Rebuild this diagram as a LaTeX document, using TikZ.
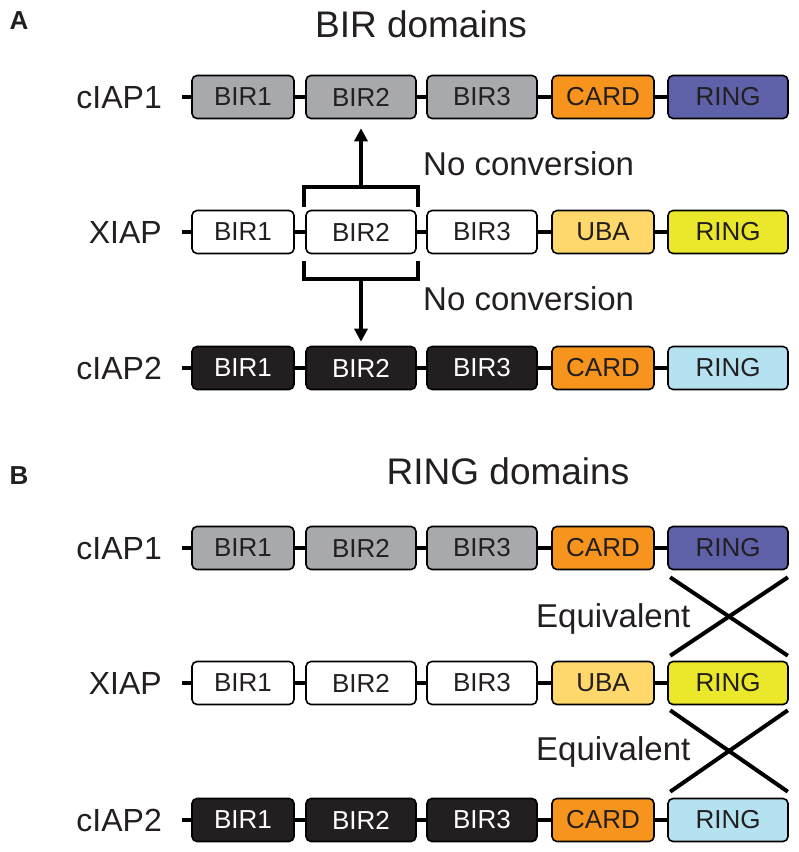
\documentclass[tikz,border=0pt]{standalone}
\usepackage{fontspec}
\setmainfont{Liberation Sans}
\usetikzlibrary{positioning,calc,arrows.meta}

\definecolor{birgrey}{HTML}{A7A9AC}
\definecolor{birblack}{HTML}{231F20}
\definecolor{cardorange}{HTML}{F7941E}
\definecolor{ubayellow}{HTML}{FED86A}
\definecolor{ringpurple}{HTML}{5E60A8}
\definecolor{ringyellow}{HTML}{EBE72B}
\definecolor{ringblue}{HTML}{B5E2F0}

\begin{document}
\begin{tikzpicture}[x=1pt,y=-1pt]
        \tikzstyle{every node}=[font=\fontsize{26}{30}\selectfont, inner sep=0pt, text=birblack]
        \tikzstyle{dom}=[draw, line width=1.6pt, rounded corners=5pt, minimum height=43pt]
        \tikzstyle{link}=[line width=4pt]
        \tikzstyle{prot}=[anchor=base east, font=\fontsize{32}{36}\selectfont]
        \tikzstyle{head}=[anchor=base, font=\fontsize{37}{42}\selectfont]
        \tikzstyle{note}=[anchor=base west, font=\fontsize{33}{38}\selectfont]
        \tikzstyle{panel}=[font=\fontsize{26}{30}\selectfont\bfseries]

        \useasboundingbox (0,0) rectangle (799,852);

        % panel letters and headings
        \node[panel] (pA) at (19,21) {A};
        \node[panel] (pB) at (19,476) {B};
        \node[head]  (hA) at (421,37)  {BIR domains};
        \node[head]  (hB) at (508,484) {RING domains};

        % one row per protein
        \foreach \row/\y/\lab/\bfill/\btext/\mfill/\mtext/\rfill in {
            a1/97/cIAP1/birgrey/birblack/cardorange/CARD/ringpurple,
            a2/232/XIAP/white/birblack/ubayellow/UBA/ringyellow,
            a3/368/cIAP2/birblack/white/cardorange/CARD/ringblue,
            b1/548/cIAP1/birgrey/birblack/cardorange/CARD/ringpurple,
            b2/683/XIAP/white/birblack/ubayellow/UBA/ringyellow,
            b3/820/cIAP2/birblack/white/cardorange/CARD/ringblue}
        {
            \node[prot] (\row lab) at (162,\y+11) {\lab};
            \coordinate (\row s) at (182,\y);
            \node[dom, minimum width=102pt, fill=\bfill, text=\btext] (\row b1) at (243,\y) {BIR1};
            \node[dom, minimum width=110pt, fill=\bfill, text=\btext] (\row b2) at (361,\y) {BIR2};
            \node[dom, minimum width=110pt, fill=\bfill, text=\btext] (\row b3) at (482,\y) {BIR3};
            \node[dom, minimum width=102pt, fill=\mfill] (\row m) at (603,\y) {\mtext};
            \node[dom, minimum width=120pt, fill=\rfill] (\row ring) at (728,\y) {RING};
            \draw[link] (\row s) -- (\row b1) -- (\row b2) -- (\row b3) -- (\row m) -- (\row ring);
        }

        % BIR2 brackets and arrows
        \coordinate (brtop) at (361,187);
        \coordinate (brbot) at (361,279);
        \draw[link] ($(a2b2.north west)+(-1,-3)$) -- ++(0,-20) -| ($(a2b2.north east)+(1,-3)$);
        \draw[link] ($(a2b2.south west)+(-1,7)$) -- ++(0,18) -| ($(a2b2.south east)+(1,7)$);
        \draw[line width=3.5pt, -{Triangle[width=13pt,length=13pt]}, shorten >=9pt] (brtop) -- (a1b2.south);
        \draw[line width=3.5pt, -{Triangle[width=13pt,length=13pt]}, shorten >=4pt] (brbot) -- (a3b2.north);
        \node[note] (nc1) at (423,175) {No conversion};
        \node[note] (nc2) at (423,310) {No conversion};

        % RING crosses
        \draw[link] ($(b1ring.south west)+(3,7)$) -- ($(b2ring.north east)+(-1,-5)$);
        \draw[link] ($(b1ring.south east)+(-1,7)$) -- ($(b2ring.north west)+(3,-5)$);
        \draw[link] ($(b2ring.south west)+(3,5)$) -- ($(b3ring.north east)+(-1,-6)$);
        \draw[link] ($(b2ring.south east)+(-1,5)$) -- ($(b3ring.north west)+(3,-6)$);
        \node[note] (eq1) at (536,627) {Equivalent};
        \node[note] (eq2) at (536,760) {Equivalent};

\end{tikzpicture}
\end{document}
